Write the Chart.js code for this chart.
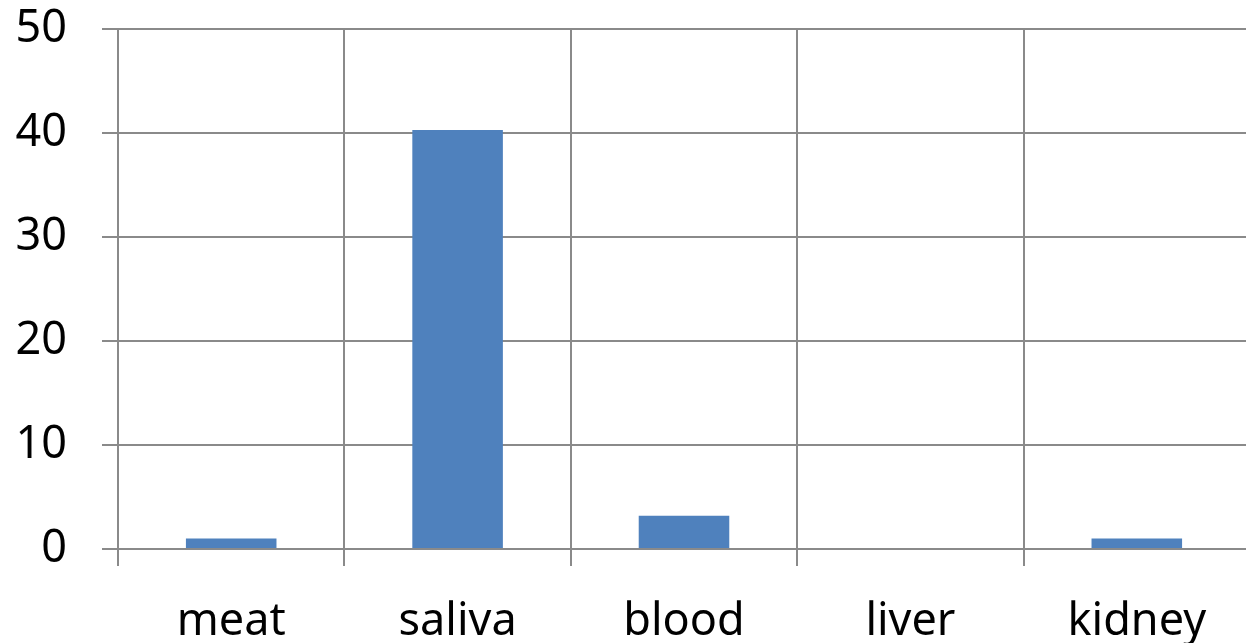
<!DOCTYPE html>
<html>
<head>
<meta charset="utf-8">
<script src="https://cdn.jsdelivr.net/npm/chart.js@4.4.0/dist/chart.umd.min.js"></script>
<style>
  html, body { margin: 0; padding: 0; background: #fff; overflow: hidden; }
  #wrap { width: 1250px; height: 676px; margin-top: -33px; }
</style>
</head>
<body>
<div id="wrap"><canvas id="chart" width="1250" height="676"></canvas></div>
<script>
// 類別與數值
const categories = ['meat', 'saliva', 'blood', 'liver', 'kidney'];
const values = [1, 40.3, 3.2, 0, 1];
const yTicks = [0, 10, 20, 30, 40, 50];

const gridColor = '#8a8a8a';
const fontFamily = '"Noto Sans", "Open Sans", sans-serif';

const ctx = document.getElementById('chart').getContext('2d');
new Chart(ctx, {
    type: 'bar',
    data: {
        labels: categories,
        datasets: [{
            data: values,
            backgroundColor: '#4f81bd',
            borderWidth: 0,
            barPercentage: 0.4,
            categoryPercentage: 1
        }]
    },
    options: {
        responsive: false,
        animation: false,
        layout: { padding: { top: 0, left: 0, right: 0, bottom: 0 } },
        plugins: {
            legend: { display: false },
            tooltip: { enabled: false }
        },
        scales: {
            x: {
                afterFit: axis => { axis.height = 94; },
                grid: { color: gridColor, lineWidth: 2, tickLength: 17, tickColor: gridColor },
                border: { color: gridColor, width: 2 },
                ticks: { color: '#000', font: { family: fontFamily, size: 45 }, padding: 29, maxRotation: 0 }
            },
            y: {
                min: yTicks[0],
                max: yTicks[yTicks.length - 1],
                afterBuildTicks: axis => { axis.ticks = yTicks.map(v => ({ value: v })); },
                afterFit: axis => { axis.width = 118; },
                grid: { color: gridColor, lineWidth: 2, tickLength: 16, tickColor: gridColor },
                border: { color: gridColor, width: 2 },
                ticks: { color: '#000', font: { family: fontFamily, size: 45 }, padding: 35 }
            }
        }
    }
});
</script>
</body>
</html>
